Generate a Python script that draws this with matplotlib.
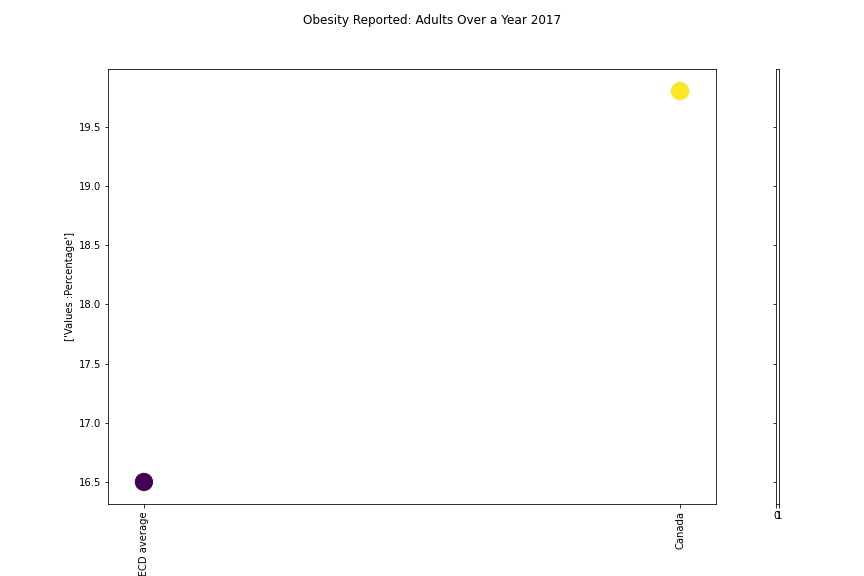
import matplotlib
matplotlib.use("Agg")
import matplotlib.pyplot as plt
import numpy as np

categories = ["OECD average", "Canada"]
values = [16.5, 19.8]
title = "Obesity Reported: Adults Over a Year 2017"
ylabel = "['Values :Percentage']"

fig = plt.figure(figsize=(12, 8), dpi=72)
ax = fig.add_axes([108/864, 1-504/576, 608/864, 435/576])
cax = fig.add_axes([776/864, 1-504/576, 3/864, 435/576], sharey=ax)

xpos = np.arange(len(categories))
ax.scatter(xpos, values, c=np.arange(len(values)), cmap="viridis", s=300)
ax.set_xticks(xpos)
ax.set_xticklabels(categories, rotation=90)
ax.set_xlim(-0.067, 1.067)
ax.set_ylim(16.314, 19.986)
ax.set_ylabel(ylabel)

cax.set_xlim(0, 1)
cax.set_xticks([0, 1])
plt.setp(cax.get_yticklabels(), visible=False)

fig.suptitle(title, fontsize=12, y=0.975)
fig.savefig("out.png", dpi=72)
